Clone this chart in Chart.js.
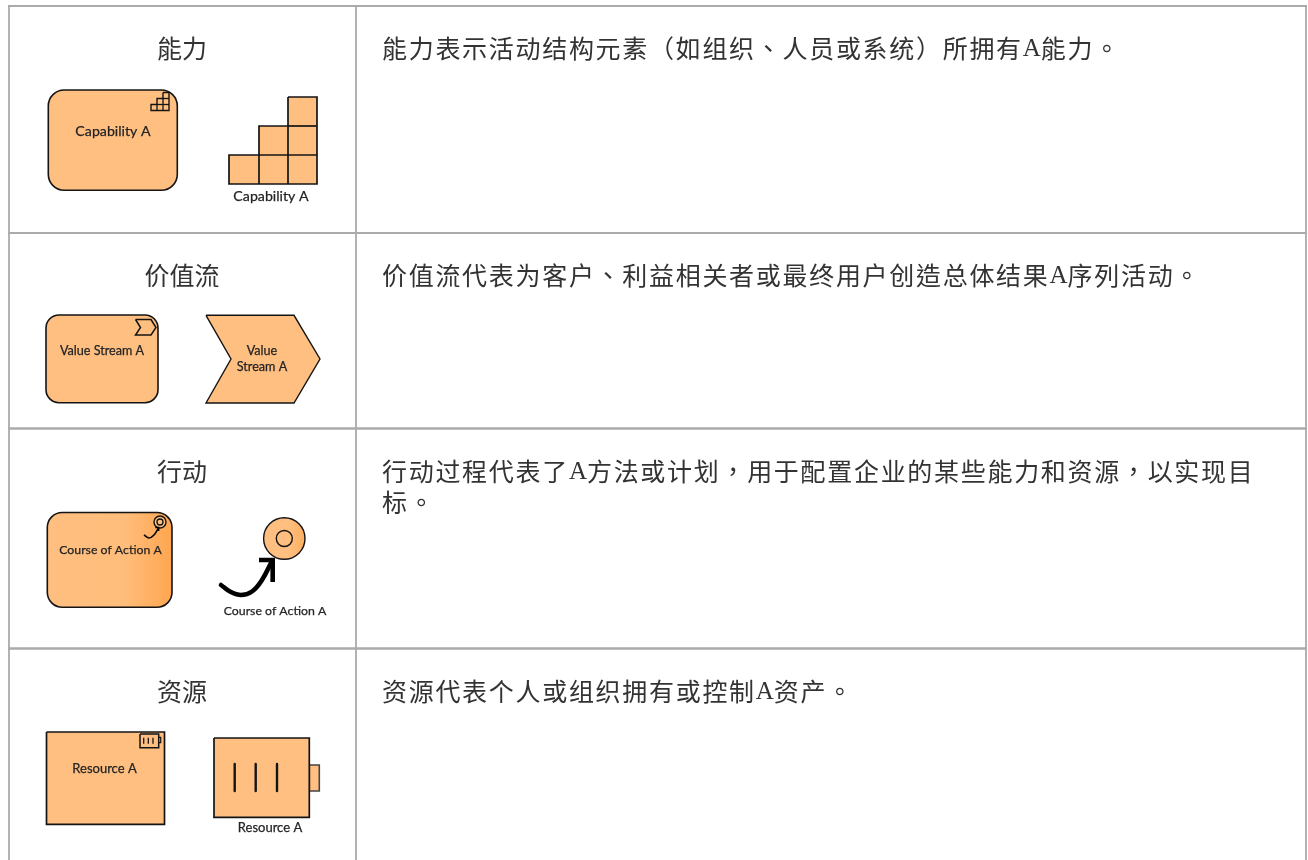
<!DOCTYPE html>
<html lang="zh-TW">
<head>
<meta charset="utf-8">
<title>能力 价值流 行动 资源</title>
<script src="https://cdn.jsdelivr.net/npm/chart.js@4/dist/chart.umd.js"></script>
<style>html,body{margin:0;padding:0;background:#fff;overflow:hidden}canvas{display:block}</style>
</head>
<body>
<canvas id="c" width="1308" height="860"></canvas>
<script>
// ---- text ----
const rowTitles = ['能力', '价值流', '行动', '资源'];
const rowTitleY = [48, 275, 471, 691];
const descriptionLines = [
  '能力表示活动结构元素（如组织、人员或系统）所拥有A能力。',
  '价值流代表为客户、利益相关者或最终用户创造总体结果A序列活动。',
  '行动过程代表了A方法或计划，用于配置企业的某些能力和资源，以实现目',
  '标。',
  '资源代表个人或组织拥有或控制A资产。'
];
const descriptionY = [48, 275, 471, 502, 691];
const elementLabels = [
  ['Capability A', 113, 131, 14.2], ['Capability A', 271, 196.5, 14.2],
  ['Value Stream A', 102, 350.5, 12.6], ['Value', 262, 350.5, 12.6], ['Stream A', 262, 366.5, 12.6],
  ['Course of Action A', 110.5, 550, 12.3], ['Course of Action A', 275, 611.5, 12.3],
  ['Resource A', 104.5, 769, 13], ['Resource A', 270, 828, 13]
];

// ---- table rules (axis units) ----
const ruleColumns = [9, 356, 1306];
const ruleRows = [6, 233, 428.5, 648.5];

// ---- element outlines (axis units) ----
const roundedBoxes = [
  [48.3, 90, 177.3, 190.3, 16],
  [46, 315, 158, 402.7, 13],
  [47.3, 512.5, 172, 607.3, 15]
];
const stairBig = [[288,97],[317,97],[317,184],[229,184],[229,155],[259,155],[259,126],[288,126],[288,97]];
const stairBigInner = [[[259,155],[317,155]], [[288,126],[317,126]], [[259,155],[259,184]], [[288,126],[288,184]]];
const stairIcon = [[163,92.5],[169,92.5],[169,110.5],[151,110.5],[151,104.5],[157,104.5],[157,98.5],[163,98.5],[163,92.5]];
const stairIconInner = [[[157,104.5],[169,104.5]], [[163,98.5],[169,98.5]], [[157,104.5],[157,110.5]], [[163,98.5],[163,110.5]]];
const chevronBig = [[206,315.3],[294,315.3],[320,359],[294,403],[206,403],[231,359],[206,315.3]];
const chevronIcon = [[135.5,319.5],[151,319.5],[156,327.5],[151,335],[135.5,335],[140.5,327.5],[135.5,319.5]];
const arrowBig = [[221,585],[230,591.5],[241,595],[252,591.5],[262,580],[272,561]];
const arrowBigHead = [[259,560],[272.7,560],[272.7,582]];
const arrowIcon = [[144,535],[149,538],[154,535],[158.5,528]];
const arrowIconHead = [[155.3,527.5],[158.7,527.5],[158.7,531]];
const resourceBox = [[46.5,732],[164.5,732],[164.5,824.3],[46.5,824.3],[46.5,732]];
const resourceIcon = [[140,734],[158.7,734],[158.7,747.7],[140,747.7],[140,734]];
const resourceIconNub = [[158.7,737.3],[160.7,737.3],[160.7,742.7],[158.7,742.7]];
const resourceIconTicks = [143.7, 148.3, 153];
const resourceIconTickY = [737.7, 743.7];
const resourceBig = [[214,738],[309.3,738],[309.3,817.3],[214,817.3],[214,738]];
const resourceBigNub = [[309.3,765],[319.3,765],[319.3,791],[309.3,791],[309.3,765]];
const resourceBigTicks = [234.7, 255.7, 277];
const resourceBigTickY = [764, 791];
const targetRings = [[160,522,6,'#FFBF80',1.4],[160,522,3,'#FFBF80',1.3],[284.3,538.5,20.7,'big',1.4],[284.3,538.5,8,'#FFBF80',1.4]];

// ---- drawing ----
const FILL = '#FFBF80', INK = '#141414', RULE = '#ababab';
const canvas = document.getElementById('c');
const g = canvas.getContext('2d');
const pts = a => a.map(p => ({x: p[0], y: p[1]}));
const shape = (a, o = {}) => ({
  data: pts(a), showLine: true, pointRadius: 0, borderColor: o.color || INK,
  borderWidth: o.w || 1.4, fill: o.fill ? 'shape' : false, backgroundColor: o.fill || 'transparent',
  tension: o.tension || 0, borderCapStyle: o.cap || 'butt', borderJoinStyle: o.join || 'miter'
});

const drawn = [];
ruleColumns.forEach(x => drawn.push(shape([[x, 6], [x, 860]], {color: RULE, w: 1.8})));
ruleRows.forEach((y, i) => drawn.push(shape([[8, y], [1307, y]], {color: RULE, w: i === 2 || i === 3 ? 2.6 : 1.8})));
drawn.push(shape(stairBig, {fill: FILL, w: 1.7}));
stairBigInner.forEach(s => drawn.push(shape(s, {w: 1.7})));
drawn.push(shape(stairIcon, {fill: FILL, w: 1.4}));
stairIconInner.forEach(s => drawn.push(shape(s, {w: 1.3})));
drawn.push(shape(chevronBig, {fill: FILL, w: 1.4}));
drawn.push(shape(chevronIcon, {fill: FILL, w: 1.5}));
drawn.push(shape(resourceBox, {fill: FILL, w: 1.7}));
drawn.push(shape(resourceIcon, {fill: FILL, w: 1.5}));
drawn.push(shape(resourceIconNub, {w: 1.2}));
resourceIconTicks.forEach(x => drawn.push(shape([[x, resourceIconTickY[0]], [x, resourceIconTickY[1]]], {w: 1.3})));
drawn.push(shape(resourceBigNub, {fill: FILL, w: 1.6, color: '#444'}));
drawn.push(shape(resourceBig, {fill: FILL, w: 1.7}));
resourceBigTicks.forEach(x => drawn.push(shape([[x, resourceBigTickY[0]], [x, resourceBigTickY[1]]], {w: 2.4, cap: 'round'})));

const ringGrad = g.createLinearGradient(263, 0, 305, 0);
ringGrad.addColorStop(0, '#FFBF80'); ringGrad.addColorStop(0.6, '#FFBF80'); ringGrad.addColorStop(1, '#FFAE5E');
targetRings.forEach(r => drawn.push({
  data: pts([[r[0], r[1]]]), showLine: false, pointStyle: 'circle', pointRadius: r[2], pointHoverRadius: r[2],
  pointBackgroundColor: r[3] === 'big' ? ringGrad : r[3], pointBorderColor: INK, pointBorderWidth: r[4]
}));
drawn.push(shape(arrowBig, {w: 4.6, color: '#000', tension: 0.4, cap: 'round'}));
drawn.push(shape(arrowBigHead, {w: 4.6, color: '#000'}));
drawn.push(shape(arrowIcon, {w: 1.6, color: '#000', tension: 0.4}));
drawn.push(shape(arrowIconHead, {w: 1.4, color: '#000'}));

const tablePlugin = {
  id: 'tableText',
  beforeDatasetsDraw(chart) {
    const {ctx, scales: {x, y}} = chart;
    roundedBoxes.forEach((b, i) => {
      const l = x.getPixelForValue(b[0]), t = y.getPixelForValue(b[1]);
      const r = x.getPixelForValue(b[2]), btm = y.getPixelForValue(b[3]);
      ctx.save();
      ctx.beginPath();
      ctx.roundRect(l, t, r - l, btm - t, b[4]);
      if (i === 2) {
        const lg = ctx.createLinearGradient(l, 0, r, 0);
        lg.addColorStop(0, '#FFBF80'); lg.addColorStop(0.62, '#FFBD7B'); lg.addColorStop(1, '#FFA64F');
        ctx.fillStyle = lg;
      } else ctx.fillStyle = FILL;
      ctx.fill();
      ctx.lineWidth = 1.6; ctx.strokeStyle = INK; ctx.stroke();
      ctx.restore();
    });
  },
  afterDatasetsDraw(chart) {
    const {ctx, scales: {x, y}} = chart;
    ctx.save();
    ctx.textBaseline = 'middle';
    ctx.fillStyle = '#333';
    ctx.textAlign = 'center';
    ctx.font = '25px "Noto Sans CJK TC"';
    rowTitles.forEach((t, i) => ctx.fillText(t, x.getPixelForValue(182), y.getPixelForValue(rowTitleY[i])));
    ctx.fillStyle = '#242424';
    ctx.strokeStyle = '#242424';
    ctx.lineWidth = 0.25;
    elementLabels.forEach(l => {
      ctx.font = l[3] + 'px Lato';
      ctx.fillText(l[0], x.getPixelForValue(l[1]), y.getPixelForValue(l[2]));
      ctx.strokeText(l[0], x.getPixelForValue(l[1]), y.getPixelForValue(l[2]));
    });
    ctx.textAlign = 'left';
    ctx.fillStyle = '#333';
    descriptionLines.forEach((line, i) => {
      let px = x.getPixelForValue(382);
      const py = y.getPixelForValue(descriptionY[i]);
      line.split(/(A)/).forEach(run => {
        if (!run) return;
        const latin = run === 'A';
        ctx.font = latin ? '25px "Liberation Serif"' : '25px "Noto Sans CJK TC"';
        ctx.letterSpacing = latin ? '0px' : '1.7px';
        ctx.fillText(run, px, py + (latin ? 1 : 0));
        px += ctx.measureText(run).width;
      });
    });
    ctx.restore();
  }
};

new Chart(canvas, {
  type: 'scatter',
  data: {datasets: drawn.reverse()},
  plugins: [tablePlugin],
  options: {
    responsive: false, animation: false, events: [],
    layout: {padding: 0, autoPadding: false},
    clip: false,
    plugins: {legend: {display: false}, tooltip: {enabled: false}, title: {display: false}},
    scales: {
      x: {type: 'linear', min: 0, max: 1308, display: false},
      y: {type: 'linear', min: 0, max: 860, reverse: true, display: false}
    }
  }
});
</script>
</body>
</html>
